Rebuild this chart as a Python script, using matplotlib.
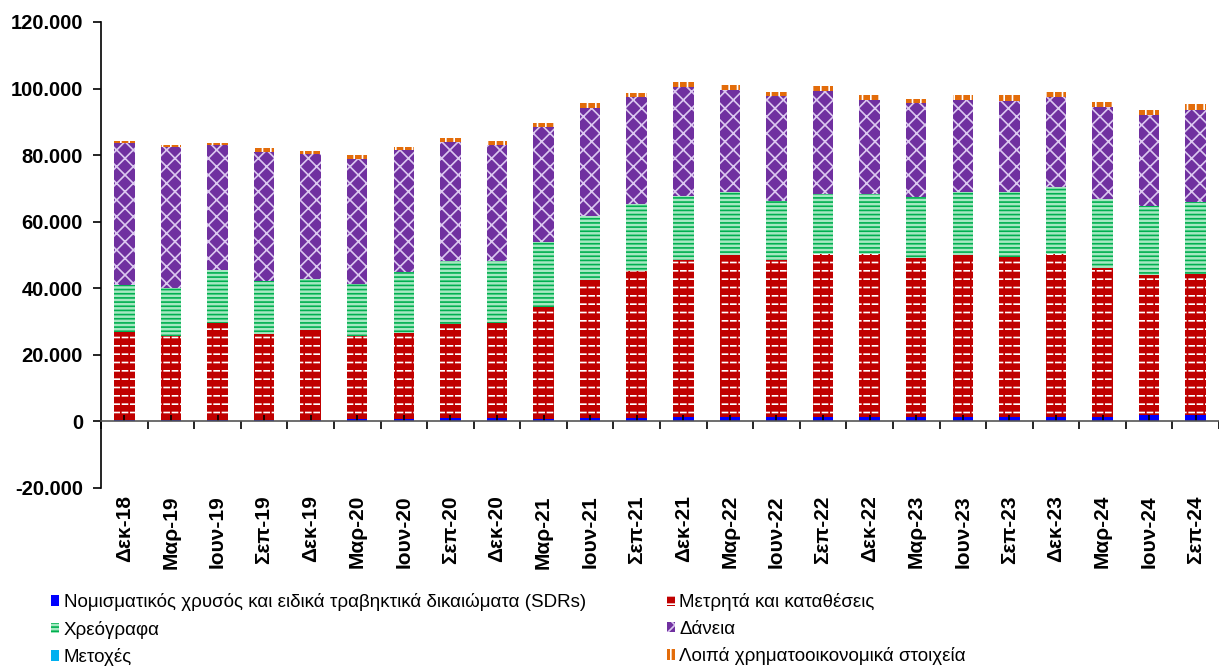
import numpy as np
import matplotlib.pyplot as plt
from matplotlib.ticker import FuncFormatter, FixedLocator
from matplotlib.patches import Patch

plt.rcParams['font.family'] = ['Liberation Sans', 'DejaVu Sans']
plt.rcParams['hatch.linewidth'] = 1.2

quarters = ['Δεκ-18', 'Μαρ-19', 'Ιουν-19', 'Σεπ-19', 'Δεκ-19', 'Μαρ-20', 'Ιουν-20', 'Σεπ-20',
            'Δεκ-20', 'Μαρ-21', 'Ιουν-21', 'Σεπ-21', 'Δεκ-21', 'Μαρ-22', 'Ιουν-22', 'Σεπ-22',
            'Δεκ-22', 'Μαρ-23', 'Ιουν-23', 'Σεπ-23', 'Δεκ-23', 'Μαρ-24', 'Ιουν-24', 'Σεπ-24']

# million euro
gold_sdr = [400, 400, 450, 450, 450, 800, 850, 900, 900, 700, 900, 1100,
            1300, 1300, 1300, 1300, 1300, 1300, 1300, 1300, 1300, 1300, 1800, 1800]
cash_dep = [26450, 25160, 29230, 25710, 27010, 24760, 25710, 28270, 28670, 33590, 41700, 44200,
            47100, 48600, 47100, 49000, 49000, 47900, 48600, 48200, 49100, 44900, 42100, 42400]
securities = [14050, 14640, 15940, 15940, 15340, 15840, 18340, 19030, 18630, 19510, 19050, 19900,
              19300, 19100, 17800, 18100, 18100, 18300, 19100, 19500, 19900, 20500, 20800, 21750]
loans = [42800, 42300, 37280, 38900, 37400, 37500, 36500, 35800, 34900, 34500, 32550, 32150,
         32800, 30500, 31500, 30800, 28100, 28300, 27500, 27300, 27200, 27800, 27500, 27750]
shares = [0] * 24
other = [500, 600, 700, 1000, 1000, 1100, 900, 1100, 1100, 1200, 1500, 1350,
         1400, 1500, 1400, 1550, 1500, 1200, 1500, 1700, 1600, 1500, 1500, 1600]

series = [
    ('Νομισματικός χρυσός και ειδικά τραβηκτικά δικαιώματα (SDRs)', gold_sdr, '#0000ff', '#0000ff', ''),
    ('Μετρητά και καταθέσεις', cash_dep, '#c00000', '#ffffff', '--'),
    ('Χρεόγραφα', securities, '#a6e8c2', '#00b050', '----'),
    ('Δάνεια', loans, '#7030a0', '#dcc8f0', 'xx'),
    ('Μετοχές', shares, '#00b0f0', '#ffffff', ''),
    ('Λοιπά χρηματοοικονομικά στοιχεία', other, '#e36c0a', '#ffffff', '||'),
]

fig = plt.figure(figsize=(12.19, 6.68), dpi=100)
ax = fig.add_axes([0.0829, 0.2695, 0.9171, 0.6976])

x = np.arange(len(quarters))
bottom = np.zeros(len(quarters))
handles = {}
for name, vals, fc, hc, hatch in series:
    vals = np.array(vals, dtype=float)
    ax.bar(x, vals, 0.44, bottom=bottom, color=fc, edgecolor=hc, hatch=hatch, linewidth=0)
    if name.startswith('Μετρητά'):
        # break the white stripes into short dashes
        ax.bar(x, vals, 0.44, bottom=bottom, facecolor='none', edgecolor=fc, hatch='||', linewidth=0)
    handles[name] = Patch(facecolor=fc, edgecolor=hc, hatch=hatch, linewidth=0)
    bottom += vals

ax.set_xlim(-0.5, len(quarters) - 0.5)
ax.set_ylim(-20000, 120000)
ax.set_yticks(np.arange(-20000, 120001, 20000))
ax.yaxis.set_major_formatter(FuncFormatter(lambda v, p: f'{v:,.0f}'.replace(',', '.')))
ax.tick_params(axis='y', direction='out', length=6, width=1.2, pad=7, labelsize=14.5)
for lab in ax.get_yticklabels():
    lab.set_fontweight('bold')

ax.spines['top'].set_visible(False)
ax.spines['right'].set_visible(False)
ax.spines['left'].set_linewidth(1.2)
ax.spines['bottom'].set_position(('data', 0))
ax.spines['bottom'].set_color('#555555')
ax.spines['bottom'].set_linewidth(1.2)

ax.xaxis.set_major_locator(FixedLocator(np.arange(-0.5, len(quarters), 1.0)))
ax.xaxis.set_minor_locator(FixedLocator(x))
ax.tick_params(axis='x', which='major', direction='out', length=6, width=1.2, labelbottom=False)
ax.tick_params(axis='x', which='minor', direction='in', length=4, width=1.2, pad=53, labelsize=15)
ax.set_xticks(x, minor=True)
ax.set_xticklabels(quarters, minor=True, rotation=90, fontweight='bold')

order = [series[0][0], series[2][0], series[4][0], series[1][0], series[3][0], series[5][0]]
fig.legend([handles[n] for n in order], order, ncol=2, loc='upper left',
           bbox_to_anchor=(0.036, 0.123), borderaxespad=0, frameon=False, fontsize=13.5,
           handlelength=0.42, handleheight=0.5, handletextpad=0.25,
           columnspacing=4.3, labelspacing=0.5)

fig.savefig('out.png', dpi=100)
